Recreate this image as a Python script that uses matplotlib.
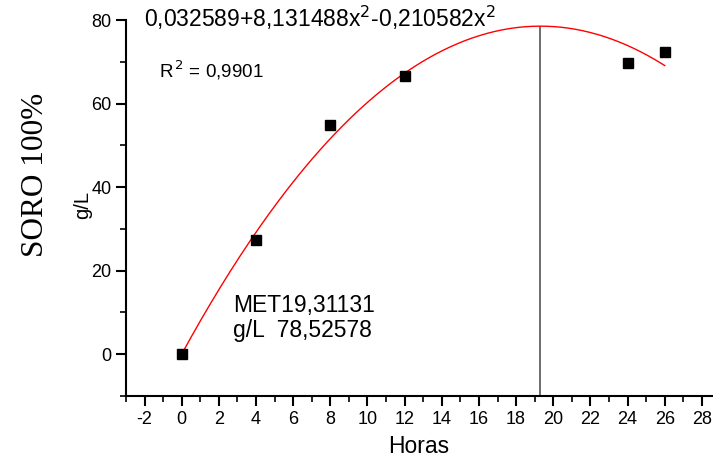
import numpy as np
import matplotlib.pyplot as plt
from matplotlib.ticker import MultipleLocator

plt.rcParams['axes.unicode_minus'] = False

# measured data (hours vs g/L)
horas = [0, 4, 8, 12, 24, 26]
concentracao = [0.0, 27.3, 54.8, 66.7, 69.8, 72.4]

# quadratic fit coefficients
a0, a1, a2 = 0.032589, 8.131488, -0.210582
x_max = 19.31131
y_max = 78.52578

fig = plt.figure(figsize=(7.13, 4.59), dpi=100)
ax = fig.add_axes([0.1767, 0.1373, 0.822, 0.8191])

xf = np.linspace(0, 26, 200)
yf = a0 + a1 * xf + a2 * xf ** 2
ax.plot(xf, yf, color='red', lw=1.0, zorder=2)
ax.plot(horas, concentracao, 's', color='black', ms=6.5, zorder=3)
ax.vlines(x_max, -10, y_max, color='#555555', lw=1.2, zorder=1)

ax.set_xlim(-3, 28.55)
ax.set_ylim(-10, 80)
ax.xaxis.set_major_locator(MultipleLocator(2))
ax.xaxis.set_minor_locator(MultipleLocator(1))
ax.yaxis.set_major_locator(MultipleLocator(20))
ax.yaxis.set_minor_locator(MultipleLocator(10))

for s in ['top', 'right']:
    ax.spines[s].set_visible(False)
for s in ['left', 'bottom']:
    ax.spines[s].set_linewidth(1.5)
ax.tick_params(which='major', direction='out', length=7, width=1.5, labelsize=13)
ax.tick_params(which='minor', direction='out', length=4, width=1.2)

ax.set_xlabel('Horas', fontsize=16.5, family='Liberation Sans', labelpad=5)
for lbl in ax.get_xticklabels() + ax.get_yticklabels():
    lbl.set_family('Liberation Sans')

fig.text(0.116, 0.553, 'g/L', rotation=90, fontsize=14.5, family='Liberation Sans',
         ha='center', va='center')
fig.text(0.05, 0.619, 'SORO 100%', rotation=90, fontsize=22.5, family='Liberation Serif',
         ha='center', va='center')

ax.text(-2.05, 80.6, '0,032589+8,131488x$^2$-0,210582x$^2$', fontsize=16.5,
        family='Liberation Sans', ha='left', va='center')
ax.text(-1.2, 68.0, 'R$^{\\,2}$ = 0,9901', fontsize=13.5, family='Liberation Sans',
        ha='left', va='center')
ax.text(2.75, 11.7, 'MET19,31131', fontsize=16.5, family='Liberation Sans',
        ha='left', va='center')
ax.text(2.75, 5.6, 'g/L  78,52578', fontsize=16.5, family='Liberation Sans',
        ha='left', va='center')

fig.savefig('out.png', dpi=100)
